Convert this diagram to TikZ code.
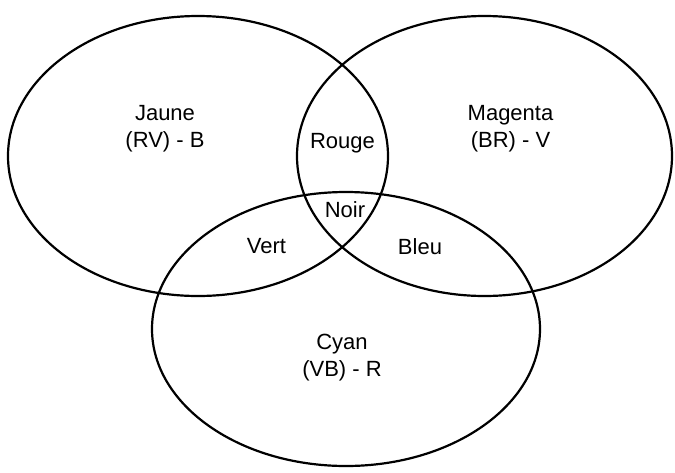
\documentclass[tikz,border=0pt]{standalone}
\usepackage{fontspec}
\setmainfont{Liberation Sans}
\usetikzlibrary{shapes.geometric}
\tikzset{
  colset/.style={draw, ellipse, line width=2.2pt, inner sep=0pt},
  zone/.style={font=\fontsize{22}{27}\selectfont, align=center, inner sep=1pt},
}

\begin{document}
\begin{tikzpicture}[x=1pt, y=-1pt]
    \useasboundingbox (0,0) rectangle (675,472);
    % les trois ensembles
    \node[colset, minimum width=380pt, minimum height=280pt] (jaune)   at (198,156) {};
    \node[colset, minimum width=375pt, minimum height=280pt] (magenta) at (484.5,156) {};
    \node[colset, minimum width=388pt, minimum height=274pt] (cyan)    at (346,329) {};
    % textes
    \node[zone] (tjaune)   at (165,129) {Jaune\\(RV) - B};
    \node[zone] (tmagenta) at (510.5,129) {Magenta\\(BR) - V};
    \node[zone] (tcyan)    at (342,358) {Cyan\\(VB) - R};
    \node[zone] (rouge) at (342.5,143.5) {Rouge};
    \node[zone] (noir)  at (345,210) {Noir};
    \node[zone] (vert)  at (266.5,246.5) {Vert};
    \node[zone] (bleu)  at (420,246.5) {Bleu};
\end{tikzpicture}
\end{document}
